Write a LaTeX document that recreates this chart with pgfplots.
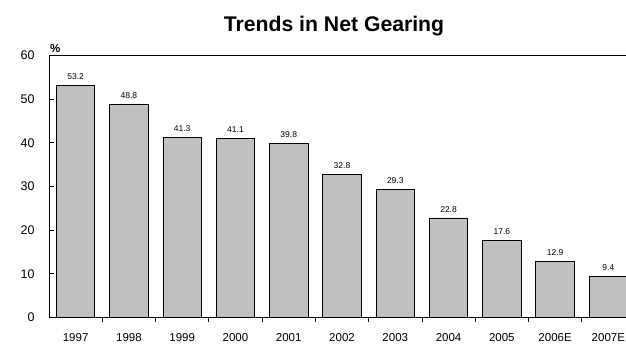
\documentclass[border=0pt]{standalone}
\usepackage{fontspec}
\setmainfont{Liberation Sans}
\usepackage{pgfplots}
\pgfplotsset{compat=1.18}
\begin{document}
\begin{tikzpicture}[x=1pt,y=1pt]
\useasboundingbox (0,0) rectangle (626,343);
\node[anchor=base, font=\bfseries\fontsize{21.2}{24}\selectfont] at (334,311) {Trends in Net Gearing};
\begin{axis}[
  at={(49pt,25.5pt)}, anchor=south west,
  scale only axis, width=586pt, height=262pt,
  xmin=-0.5, xmax=10.5, ymin=0, ymax=60,
  clip=false,
  axis x line*=box, axis y line*=left,
  axis line style={line width=1pt, -},
  xtick={0,...,10},
  xticklabels={1997,1998,1999,2000,2001,2002,2003,2004,2005,2006E,2007E},
  minor xtick={0.5,1.5,...,9.5},
  xtick pos=lower,
  ytick={0,10,...,60},
  ytick pos=left,
  tick align=inside,
  major x tick style={draw=none},
  minor x tick style={black, line width=0.8pt},
  minor tick length=4.5pt,
  major y tick style={black, line width=0.8pt},
  major tick length=5pt,
  /pgf/number format/assume math mode=true,
  xticklabel style={font=\fontsize{11.5}{13}\selectfont, yshift=-7pt},
  yticklabel style={font=\fontsize{12.5}{14}\selectfont, xshift=-11pt},
  ybar, bar width=38.4pt,
  nodes near coords,
  every node near coord/.append style={font=\fontsize{8.5}{10}\selectfont, yshift=2pt, black},
  nodes near coords style={/pgf/number format/.cd, fixed, fixed zerofill, precision=1},
]
\addplot[fill={rgb,255:red,192;green,192;blue,192}, draw=black, line width=0.8pt]
  coordinates {(0,53.2) (1,48.8) (2,41.3) (3,41.1) (4,39.8) (5,32.8) (6,29.3) (7,22.8) (8,17.6) (9,12.9) (10,9.4)};
\node[anchor=south west, inner sep=0pt, font=\bfseries\fontsize{11.5}{13}\selectfont] at (rel axis cs:0,1) [yshift=3pt, xshift=1pt] {\%};
\end{axis}
\end{tikzpicture}
\end{document}
